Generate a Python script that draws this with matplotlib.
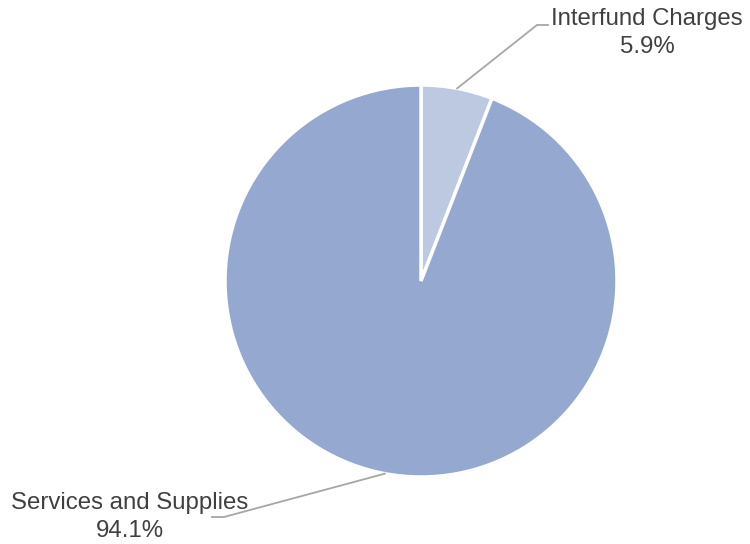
import numpy as np
import matplotlib
matplotlib.use('Agg')
import matplotlib.pyplot as plt

# data
categories = ['Interfund Charges', 'Services and Supplies']
values = [5.9, 94.1]
colors = ['#BCC9E1', '#95A9D0']

plt.rcParams['font.family'] = ['Liberation Sans', 'DejaVu Sans']

W, H = 750, 544
fig = plt.figure(figsize=(W / 100, H / 100), dpi=100)
ax = fig.add_axes([0, 0, 1, 1])

cx, cy, r = 421, H - 281, 196
wedges, _ = ax.pie(values, colors=colors, startangle=90, counterclock=False,
                   center=(cx, cy), radius=r, frame=True,
                   wedgeprops=dict(edgecolor='white', linewidth=2.5))
ax.set_xlim(0, W)
ax.set_ylim(0, H)
ax.axis('off')

# labels with leader lines
label_pos = [(647, H - 33), (130, H - 517)]
elbows = [((537, H - 25), (548, H - 25)), ((224, H - 517), (212, H - 517))]
for w, cat, val, (tx, ty), (e1, e2) in zip(wedges, categories, values, label_pos, elbows):
    ang = np.deg2rad((w.theta1 + w.theta2) / 2)
    px, py = cx + r * np.cos(ang), cy + r * np.sin(ang)
    ax.plot([px, e1[0], e2[0]], [py, e1[1], e2[1]], color='#A6A6A6', lw=1.3)
    ax.text(tx, ty, f'{cat}\n{val:.1f}%', ha='center', va='center',
            fontsize=17.3, color='#404040', linespacing=1.3)

fig.savefig('out.png', dpi=100)
